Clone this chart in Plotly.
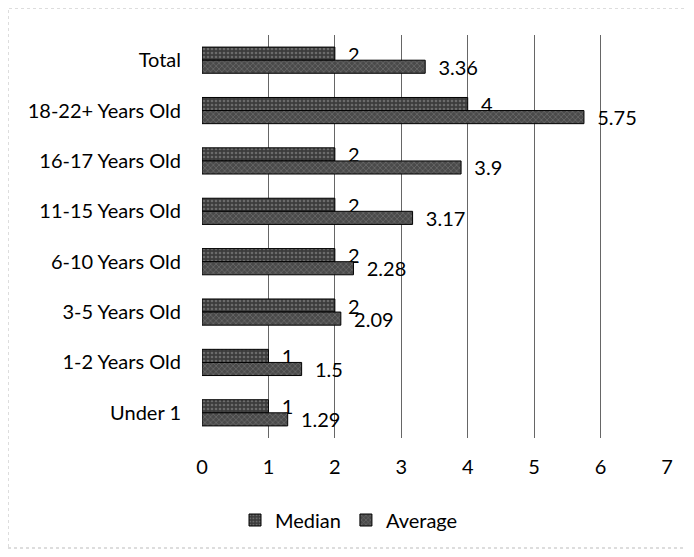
import plotly.graph_objects as go

categories = ["Total", "18-22+ Years Old", "16-17 Years Old", "11-15 Years Old",
              "6-10 Years Old", "3-5 Years Old", "1-2 Years Old", "Under 1"]
median = [2, 4, 2, 2, 2, 2, 1, 1]
average = [3.36, 5.75, 3.9, 3.17, 2.28, 2.09, 1.5, 1.29]
median_labels = ["2", "4", "2", "2", "2", "2", "1", "1"]
average_labels = ["3.36", "5.75", "3.9", "3.17", "2.28", "2.09", "1.5", "1.29"]

FONT = "Lato"
FS = 20

# page has an 8px body margin; compensate so the plot lands where the reference has it
OFF = 8
PL, PR, PT, PB = 202, 667, 35, 438  # plot area in window pixels
W, H = 694, 557

fig = go.Figure()
fig.add_trace(go.Bar(
    y=categories, x=median, orientation="h", name="Median",
    text=median_labels, texttemplate="  %{text}", textposition="outside",
    constraintext="none", cliponaxis=False,
    textfont=dict(size=FS, color="black", family=FONT),
    marker=dict(color="#3c3c3c", line=dict(color="black", width=1),
                pattern=dict(shape=".", fgcolor="#9a9a9a", bgcolor="#3c3c3c",
                             size=4, solidity=0.35)),
))
fig.add_trace(go.Bar(
    y=categories, x=average, orientation="h", name="Average",
    text=average_labels, texttemplate="  %{text}", textposition="outside",
    constraintext="none", cliponaxis=False,
    textfont=dict(size=FS, color="black", family=FONT),
    marker=dict(color="#4a4a4a", line=dict(color="black", width=1),
                pattern=dict(shape="x", fgcolor="#9a9a9a", bgcolor="#4a4a4a",
                             size=4, solidity=0.3)),
))

pw = PR - PL
ph = PB - PT
fig.update_layout(
    width=W, height=H,
    margin=dict(l=PL - OFF, r=W + OFF - PR, t=PT - OFF, b=H + OFF - PB, autoexpand=False),
    paper_bgcolor="white", plot_bgcolor="white",
    barmode="group", bargap=0.48, bargroupgap=0,
    font=dict(family=FONT, size=FS, color="black"),
    showlegend=True,
    legend=dict(orientation="h", x=(349 - PL) / pw, xanchor="center",
                y=-(520 - PB) / ph, yanchor="middle",
                font=dict(size=FS, family=FONT), itemwidth=30, traceorder="normal"),
    xaxis=dict(range=[0, 7], dtick=1, showgrid=True, gridcolor="#666666", gridwidth=1,
               zeroline=False, showline=False, ticks="", ticklabelstandoff=15,
               tickfont=dict(size=FS, family=FONT)),
    yaxis=dict(autorange="reversed", showgrid=False, showline=False, ticks="",
               ticklabelstandoff=20, tickfont=dict(size=FS, family=FONT)),
    shapes=[dict(type="rect", xref="paper", yref="paper",
                 x0=(8 - PL) / pw, x1=(688 - PL) / pw,
                 y0=-(548 - PB) / ph, y1=1 + (PT - 8) / ph,
                 line=dict(color="#bbbbbb", width=1, dash="dot"))],
)

fig.write_html("out.html")
